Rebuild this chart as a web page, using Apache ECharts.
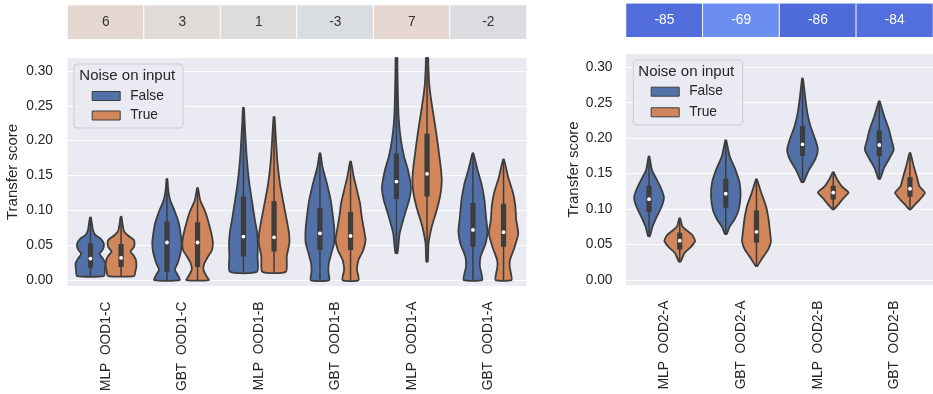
<!DOCTYPE html>
<html><head><meta charset="utf-8">
<script src="https://cdn.jsdelivr.net/npm/echarts@6/dist/echarts.min.js"></script>
<style>html,body{margin:0;padding:0;background:#fff}#c{width:933px;height:394px}</style>
</head><body><div id="c"></div>
<script>
// ---------------- data ----------------
const categoriesLeft = ['MLP  OOD1-C', 'GBT  OOD1-C', 'MLP  OOD1-B', 'GBT  OOD1-B', 'MLP  OOD1-A', 'GBT  OOD1-A'];
const categoriesRight = ['MLP  OOD2-A', 'GBT  OOD2-A', 'MLP  OOD2-B', 'GBT  OOD2-B'];
const headerLeft = [6, 3, 1, -3, 7, -2];
const headerRight = [-85, -69, -86, -84];
const hueLabels = ['False', 'True'];
const legendTitle = 'Noise on input';
const yAxisTitle = 'Transfer score';
const yTicks = [0, 0.05, 0.10, 0.15, 0.20, 0.25, 0.30];

// density profiles: [score, relative density] from lowest to highest score
const densLeftFalse = [
  [[0.006,.88],[0.015,.94],[0.024,.98],[0.031,.81],[0.038,.6],[0.044,.81],[0.052,.88],[0.059,.69],[0.065,.31],[0.072,.16],[0.082,.09],[0.090,.03]],
  [[0.0,.83],[0.008,.69],[0.015,.52],[0.024,.69],[0.039,.89],[0.053,.96],[0.067,.89],[0.082,.77],[0.096,.56],[0.115,.21],[0.13,.08],[0.145,.03]],
  [[0.012,.89],[0.034,.92],[0.053,.94],[0.07,.88],[0.086,.75],[0.11,.58],[0.139,.38],[0.177,.21],[0.21,.12],[0.23,.07],[0.247,.03]],
  [[0.0,.6],[0.012,.55],[0.024,.58],[0.039,.75],[0.053,.93],[0.072,.94],[0.091,.85],[0.115,.7],[0.139,.45],[0.163,.16],[0.182,.03]],
  [[0.0387,.06],[0.048,.12],[0.067,.21],[0.091,.5],[0.115,.83],[0.129,.94],[0.139,.92],[0.158,.75],[0.177,.5],[0.201,.29],[0.234,.14],[0.282,.08],[0.31,.06],[0.33,.05]],
  [[0.0,.6],[0.01,.55],[0.02,.45],[0.034,.5],[0.053,.83],[0.07,.95],[0.091,.85],[0.115,.75],[0.137,.57],[0.158,.3],[0.182,.03]]
];
const densLeftTrue = [
  [[0.006,.85],[0.014,.95],[0.02,1.0],[0.029,.97],[0.036,.8],[0.041,.62],[0.048,.85],[0.054,.88],[0.058,.82],[0.064,.45],[0.07,.2],[0.08,.1],[0.091,.03]],
  [[0.0,.73],[0.006,.58],[0.015,.38],[0.024,.44],[0.034,.69],[0.043,.94],[0.053,1.0],[0.063,.94],[0.077,.79],[0.096,.54],[0.115,.17],[0.132,.03]],
  [[0.012,.77],[0.034,.83],[0.053,1.0],[0.067,.98],[0.086,.83],[0.11,.62],[0.139,.38],[0.172,.21],[0.21,.1],[0.234,.03]],
  [[0.0,.52],[0.015,.42],[0.029,.52],[0.043,.83],[0.058,.98],[0.072,.88],[0.091,.73],[0.11,.62],[0.129,.42],[0.148,.21],[0.17,.03]],
  [[0.0266,.05],[0.053,.1],[0.077,.31],[0.101,.64],[0.125,.89],[0.144,.96],[0.163,.89],[0.187,.75],[0.211,.6],[0.234,.44],[0.258,.27],[0.282,.14],[0.31,.08],[0.33,.06]],
  [[0.0,.52],[0.01,.48],[0.02,.4],[0.029,.42],[0.048,.73],[0.067,.96],[0.086,.83],[0.106,.77],[0.125,.62],[0.148,.3],[0.173,.03]]
];
const densRightFalse = [
  [[0.062,.06],[0.075,.22],[0.089,.5],[0.104,.83],[0.116,.97],[0.127,.83],[0.141,.52],[0.155,.19],[0.174,.03]],
  [[0.065,.06],[0.075,.25],[0.085,.56],[0.099,.84],[0.118,.96],[0.137,.9],[0.156,.62],[0.175,.25],[0.197,.03]],
  [[0.138,.06],[0.144,.19],[0.156,.44],[0.17,.83],[0.184,1.0],[0.198,.83],[0.217,.52],[0.236,.31],[0.26,.16],[0.284,.03]],
  [[0.1427,.06],[0.158,.31],[0.17,.62],[0.184,.94],[0.198,.79],[0.213,.62],[0.2315,.31],[0.252,.03]]
];
const densRightTrue = [
  [[0.026,.06],[0.038,.31],[0.047,.75],[0.0555,1.0],[0.064,.79],[0.075,.19],[0.087,.03]],
  [[0.02,.06],[0.031,.38],[0.0425,.75],[0.054,.94],[0.066,.89],[0.085,.79],[0.104,.62],[0.123,.31],[0.142,.03]],
  [[0.1,.06],[0.106,.31],[0.116,.69],[0.1235,1.0],[0.132,.56],[0.142,.25],[0.152,.03]],
  [[0.1,.06],[0.106,.31],[0.113,.62],[0.123,.97],[0.132,.62],[0.146,.44],[0.16,.25],[0.179,.03]]
];
// quartiles: [q1, median, q3]
const boxLeftFalse = [[0.018,0.031,0.053],[0.012,0.054,0.084],[0.034,0.0625,0.12],[0.0433,0.067,0.1034],[0.1164,0.1413,0.1817],[0.048,0.0721,0.1106]];
const boxLeftTrue = [[0.019,0.032,0.052],[0.019,0.054,0.083],[0.041,0.0615,0.113],[0.0433,0.0635,0.0976],[0.120,0.1524,0.210],[0.048,0.0688,0.1096]];
const boxRightFalse = [[0.0957,0.114,0.1328],[0.102,0.1217,0.1433],[0.1748,0.1913,0.2173],[0.1745,0.1904,0.211]];
const boxRightTrue = [[0.043,0.0555,0.0665],[0.0525,0.068,0.098],[0.1134,0.1233,0.1328],[0.1175,0.1287,0.145]];

// ---------------- styling ----------------
const FONT = '"Liberation Sans", Arial, sans-serif';
const TXT = '#262626';
const HUE_COLORS = ['#5271a8', '#d2865b'];
const EDGE = '#3d3d3d';
const coolwarm = ['#3b4cc0','#445acc','#4d68d7','#5775e1','#6282ea','#6c8ef1','#779af7','#82a5fb','#8db0fe','#98b9ff','#a3c2ff','#aec9fd','#b8d0f9','#c2d5f4','#ccd9ee','#d5dbe6','#dddddd','#e5d8d1','#ecd3c5','#f1ccb8','#f5c4ac','#f7bb9f','#f7b193','#f7a686','#f49a7b','#f18d6f','#ec7f63','#e57058','#de604d','#d55042','#cb3e38','#c0282f','#b40426'];

function makeRender(dens, boxes, side) {
  return function (params, api) {
    const i = params.dataIndex;
    const prof = dens[i];
    const band = api.size([1, 0])[0];
    const cx = api.coord([i, 0])[0] + side * 0.2 * band;
    const maxHW = 0.2 * band;
    const y = v => api.coord([i, v])[1];
    const pts = [];
    for (const [v, d] of prof) pts.push([cx + d * maxHW, y(v)]);
    for (let k = prof.length - 1; k >= 0; k--) pts.push([cx - prof[k][1] * maxHW, y(prof[k][0])]);
    const b = boxes[i];
    const lo = prof[0][0], hi = prof[prof.length - 1][0];
    return {
      type: 'group',
      children: [
        { type: 'polygon', shape: { points: pts, smooth: 0.2 }, style: { fill: api.visual('color'), stroke: EDGE, lineWidth: 1.8, lineJoin: 'round' } },
        { type: 'line', shape: { x1: cx, y1: y(lo), x2: cx, y2: y(hi) }, style: { stroke: EDGE, lineWidth: 1.5 } },
        { type: 'rect', shape: { x: cx - 2.6, y: y(b[2]), width: 5.2, height: y(b[0]) - y(b[2]) }, style: { fill: EDGE } },
        { type: 'circle', shape: { cx: cx, cy: y(b[1]), r: 1.9 }, style: { fill: '#ffffff' } }
      ]
    };
  };
}

function violinSeries(name, color, axisIdx, dens, boxes, side) {
  return {
    type: 'custom', name: name, xAxisIndex: axisIdx, yAxisIndex: axisIdx,
    itemStyle: { color: color }, clip: true, z: 2,
    renderItem: makeRender(dens, boxes, side),
    data: boxes.map((b, i) => [i, b[1]])
  };
}

function headerSeries(values, axisIdx) {
  return {
    type: 'heatmap', xAxisIndex: axisIdx, yAxisIndex: axisIdx,
    itemStyle: { borderColor: '#ffffff', borderWidth: 1 },
    label: { show: true, fontSize: 13.75, fontFamily: FONT, formatter: p => String(p.value[2]) },
    emphasis: { disabled: true },
    data: values.map((v, i) => ({ value: [i, 0, v], label: { color: v < -50 ? '#ffffff' : '#333333' } }))
  };
}

function tickFmt(v) {
  const k = v / 0.05;
  if (Math.abs(k - Math.round(k)) > 1e-6) return '';
  return yTicks.indexOf(Math.round(k) * 5 / 100) >= 0 || true ? (Math.round(k) * 0.05).toFixed(2) : '';
}

function valueAxis(gridIndex, min, max, gap, margin) {
  return {
    type: 'value', gridIndex: gridIndex, min: min, max: max, splitNumber: 5,
    name: yAxisTitle, nameLocation: 'middle', nameGap: gap,
    nameTextStyle: { fontSize: 15, color: TXT, fontFamily: FONT },
    axisLine: { show: false }, axisTick: { show: false },
    axisLabel: { fontSize: 13.75, color: TXT, fontFamily: FONT, margin: margin, formatter: tickFmt },
    splitLine: { show: true, lineStyle: { color: '#ffffff', width: 1.2 } }
  };
}

function catAxis(gridIndex, data) {
  return {
    type: 'category', gridIndex: gridIndex, data: data,
    axisLine: { show: false }, axisTick: { show: false }, splitLine: { show: false },
    axisLabel: { rotate: 90, fontSize: 13.75, color: TXT, fontFamily: FONT, margin: 15, interval: 0 }
  };
}

function legendBox(left, top, gap) {
  return {
    data: hueLabels, orient: 'vertical', left: left, top: top, padding: 0,
    itemWidth: 28, itemHeight: 9, itemGap: gap, icon: 'rect', selectedMode: false, z: 8,
    itemStyle: { borderColor: EDGE, borderWidth: 1 },
    textStyle: { fontSize: 13.75, color: TXT, fontFamily: FONT, lineHeight: 16, padding: [0, 0, 0, 5] }
  };
}

const chart = echarts.init(document.getElementById('c'), null, { renderer: 'canvas' });
chart.setOption({
  animation: false,
  backgroundColor: '#ffffff',
  textStyle: { fontFamily: FONT },
  grid: [
    { left: 67.5, top: 57.3, width: 459, height: 229.4, show: true, backgroundColor: '#eaeaf2', borderWidth: 0 },
    { left: 626, top: 53.3, width: 316, height: 232.4, show: true, backgroundColor: '#eaeaf2', borderWidth: 0 },
    { left: 67.5, top: 5, width: 459, height: 34.3 },
    { left: 626, top: 3.3, width: 316, height: 34 }
  ],
  xAxis: [
    catAxis(0, categoriesLeft),
    catAxis(1, categoriesRight),
    { type: 'category', gridIndex: 2, data: headerLeft.map(String), show: false },
    { type: 'category', gridIndex: 3, data: headerRight.map(String), show: false }
  ],
  yAxis: [
    valueAxis(0, -0.0092, 0.3195, 47, 14.5),
    valueAxis(1, -0.008, 0.3197, 45, 13.5),
    { type: 'category', gridIndex: 2, data: ['h'], show: false },
    { type: 'category', gridIndex: 3, data: ['h'], show: false }
  ],
  visualMap: { show: false, type: 'continuous', min: -100, max: 100, dimension: 2, seriesIndex: [0, 1], inRange: { color: coolwarm } },
  legend: [legendBox(91.7, 88, 3.5), legendBox(650.7, 83.7, 4.6)],
  graphic: [
    { type: 'rect', z: 5, shape: { x: 74, y: 64, width: 109, height: 64, r: 3 }, style: { fill: 'rgba(234,234,242,0.8)', stroke: '#cccccc', lineWidth: 1 } },
    { type: 'text', z: 6, x: 79.3, y: 76, style: { text: legendTitle, fontSize: 15, fill: TXT, fontFamily: FONT, verticalAlign: 'middle' } },
    { type: 'rect', z: 5, shape: { x: 633.3, y: 60, width: 109.4, height: 65, r: 3 }, style: { fill: 'rgba(234,234,242,0.8)', stroke: '#cccccc', lineWidth: 1 } },
    { type: 'text', z: 6, x: 638.3, y: 71.7, style: { text: legendTitle, fontSize: 15, fill: TXT, fontFamily: FONT, verticalAlign: 'middle' } }
  ],
  series: [
    headerSeries(headerLeft, 2),
    headerSeries(headerRight, 3),
    violinSeries(hueLabels[0], HUE_COLORS[0], 0, densLeftFalse, boxLeftFalse, -1),
    violinSeries(hueLabels[1], HUE_COLORS[1], 0, densLeftTrue, boxLeftTrue, 1),
    violinSeries(hueLabels[0], HUE_COLORS[0], 1, densRightFalse, boxRightFalse, -1),
    violinSeries(hueLabels[1], HUE_COLORS[1], 1, densRightTrue, boxRightTrue, 1)
  ]
});
</script>
</body></html>
